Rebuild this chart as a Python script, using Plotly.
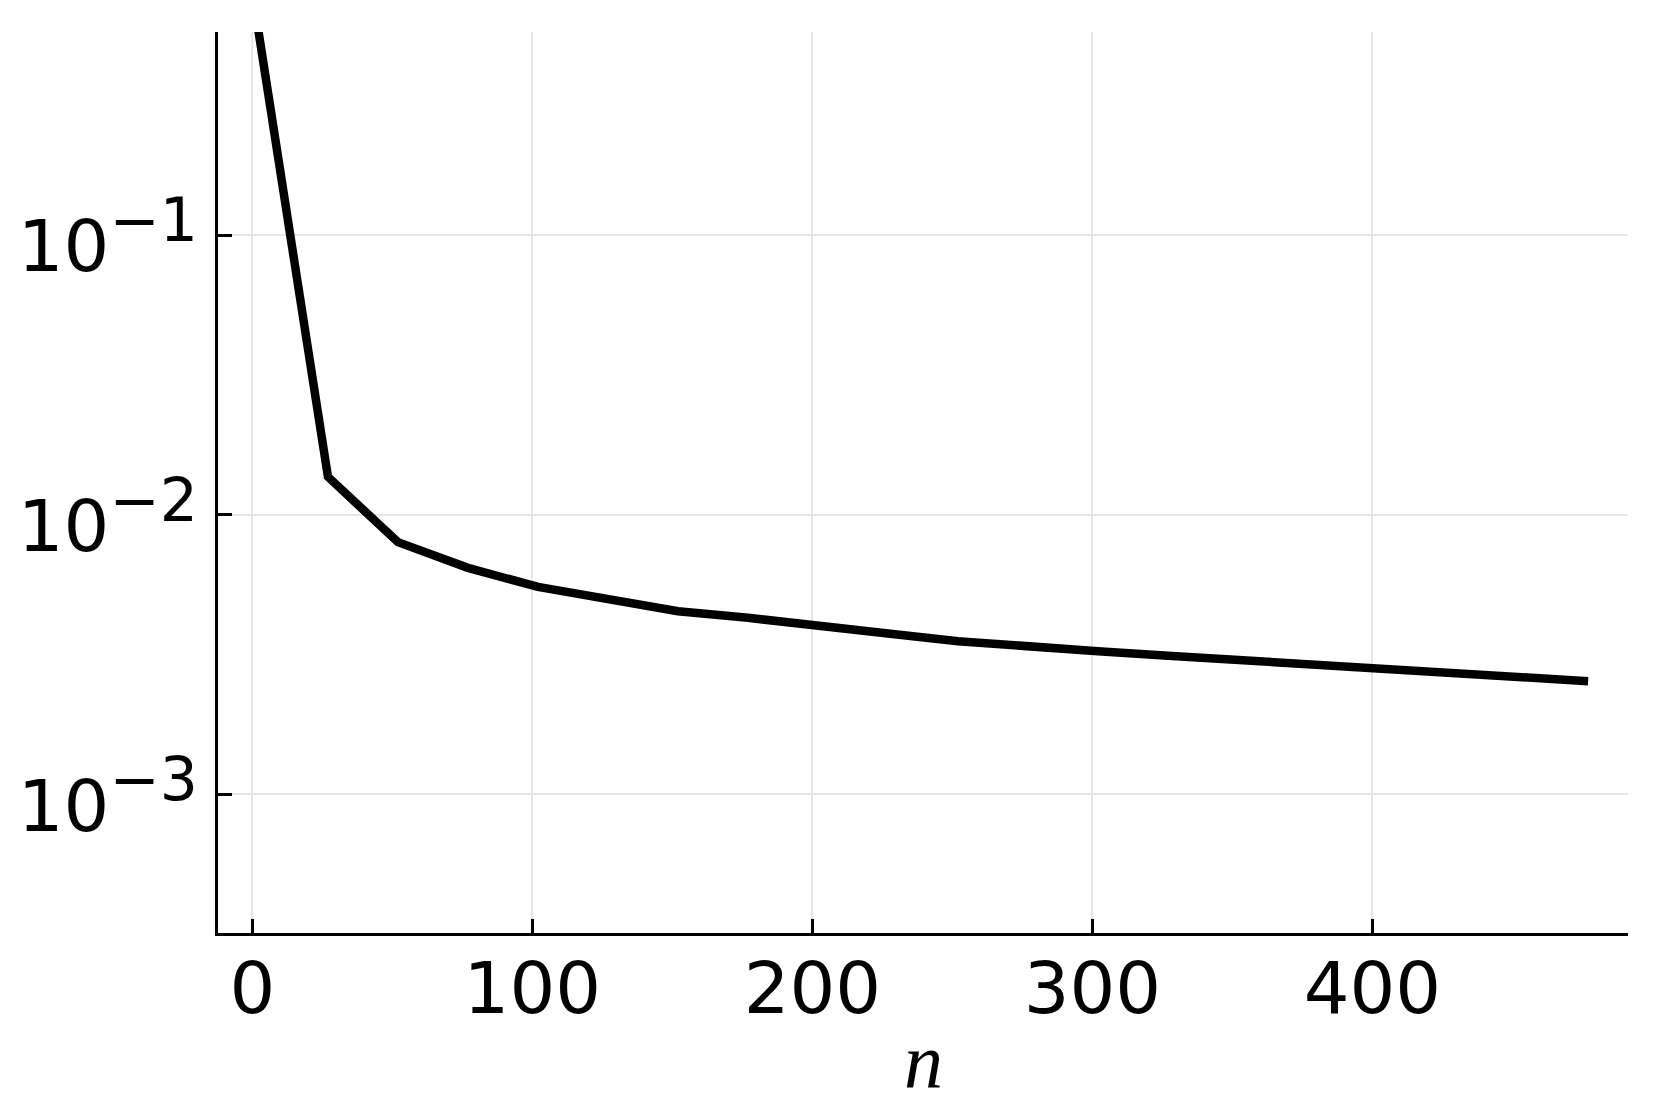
import plotly.graph_objects as go

n_values = [2, 27, 52, 77, 102, 127, 152, 177, 202, 227, 252, 277, 302, 327, 352, 377, 402, 427, 452, 477]
err_values = [0.553, 0.01368, 0.00798, 0.00646, 0.00552, 0.00498, 0.00452, 0.00428, 0.00399, 0.00376,
              0.00353, 0.00337, 0.00325, 0.00313, 0.00302, 0.00290, 0.00280, 0.00273, 0.00261, 0.00254]

x_tickvals = [0, 100, 200, 300, 400]
x_ticktext = ["0", "100", "200", "300", "400"]
y_tickvals = [1e-3, 1e-2, 1e-1]
y_exponents = ["3", "2", "1"]
y_ticktext = ["10<sup><span style='font-size:60px'>\u2212%s</span></sup>" % e for e in y_exponents]
x_title = "<i>n</i>"

fig = go.Figure()
fig.add_trace(go.Scatter(
    x=n_values, y=err_values, mode="lines",
    line=dict(color="black", width=8.5),
    showlegend=False, hoverinfo="skip",
))

tickfont = dict(family="DejaVu Sans", size=72, color="black")

fig.update_layout(
    width=1645, height=1091,
    margin=dict(l=210, r=25, t=24, b=166, autoexpand=False),
    paper_bgcolor="white", plot_bgcolor="white",
    font=dict(family="DejaVu Sans", color="black"),
    xaxis=dict(
        range=[-12.25, 491.25], automargin=False,
        tickmode="array", tickvals=x_tickvals, ticktext=x_ticktext,
        ticks="inside", ticklen=14, tickwidth=2.5, tickcolor="black",
        showline=True, linecolor="black", linewidth=2.5,
        showgrid=True, gridcolor="#e6e6e6", gridwidth=1.5,
        zeroline=False, tickfont=tickfont, ticklabelstandoff=-9,
        mirror=False,
    ),
    yaxis=dict(
        type="log", range=[-3.496, -0.273], automargin=False,
        tickmode="array", tickvals=y_tickvals, ticktext=y_ticktext,
        ticks="inside", ticklen=14, tickwidth=2.5, tickcolor="black",
        showline=True, linecolor="black", linewidth=2.5,
        showgrid=True, gridcolor="#e6e6e6", gridwidth=1.5,
        zeroline=False, tickfont=tickfont, ticklabelstandoff=3, ticklabelshift=11,
        mirror=False,
    ),
    annotations=[dict(
        text=x_title, xref="paper", yref="paper", x=0.5, y=0,
        xanchor="center", yanchor="middle", yshift=-128, showarrow=False,
        font=dict(family="Liberation Serif", size=78, color="black"),
    )],
)

fig.write_html("out.html")
